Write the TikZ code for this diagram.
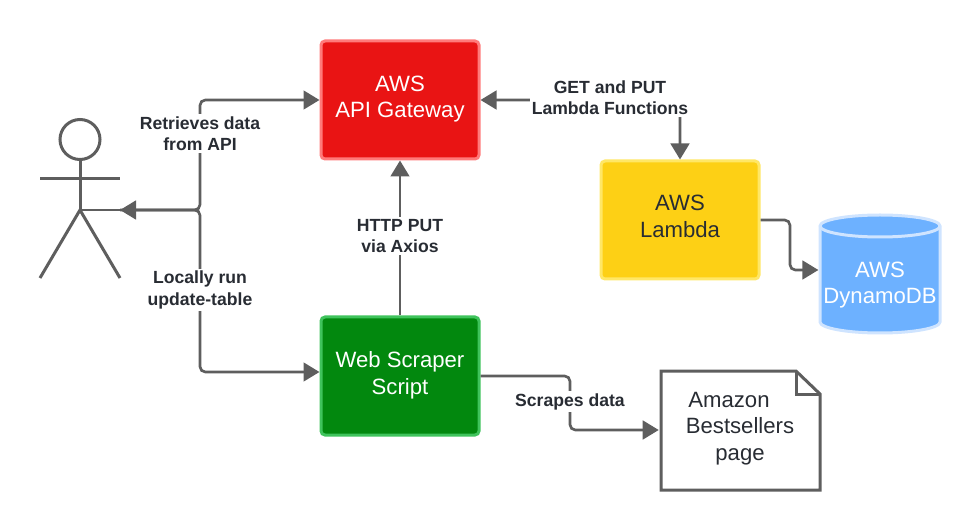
\documentclass[tikz,border=0pt]{standalone}
\usepackage{fontspec}
\setmainfont{Liberation Sans}
\usetikzlibrary{arrows.meta}
\definecolor{ln}{HTML}{5E5E5E}
\definecolor{ink}{HTML}{282C33}
\definecolor{redf}{HTML}{E91414}\definecolor{redb}{HTML}{FF7B7B}
\definecolor{grnf}{HTML}{02880E}\definecolor{grnb}{HTML}{3FC35C}
\definecolor{yelf}{HTML}{FDD015}\definecolor{yelb}{HTML}{FFE766}
\definecolor{bluf}{HTML}{6DB1FF}\definecolor{blub}{HTML}{CFE4FF}
\tikzset{
  x=0.75pt,y=-0.75pt,
  boxn/.style={draw=#1,line width=2.25pt,rounded corners=3pt,minimum width=118.5pt,minimum height=88.5pt,inner sep=0pt},
  maintext/.style={inner sep=0pt,align=center,text=ink,font=\fontsize{16.6}{20}\selectfont},
  lab/.style={fill=white,inner sep=1.5pt,align=center,text=ink,font=\bfseries\fontsize{13.2}{16}\selectfont},
  conn/.style={draw=ln,line width=2pt,rounded corners=4pt,-{Triangle[length=12pt,width=14pt]}},
  connboth/.style={conn,{Triangle[length=12pt,width=14pt]}-{Triangle[length=12pt,width=14pt]}},
  fig/.style={draw=ln,line width=2.25pt},
}
\begin{document}
\begin{tikzpicture}
\useasboundingbox (0,0) rectangle (980,530);
% boxes
\node[boxn=redb,fill=redf] (gw) at (400,100) {};
\node[boxn=grnb,fill=grnf] (ws) at (400,376) {};
\node[boxn=yelb,fill=yelf] (lam) at (680,220) {};
\node[maintext,text=white] (gwtext) at (400,99) {AWS\\API Gateway};
\node[maintext,text=white] (wstext) at (400,375) {Web Scraper\\Script};
\node[maintext] (lamtext) at (680,216.5) {AWS\\Lambda};
% cylinder
\path[fill=bluf,draw=blub,line width=2.25pt] (820,226) -- (820,322) arc[start angle=180,end angle=0,x radius=60,y radius=11] -- (940,226) arc[start angle=0,end angle=-180,x radius=60,y radius=11] -- cycle;
\draw[blub,line width=2.25pt] (820,226) arc[start angle=180,end angle=0,x radius=60,y radius=11];
\node[inner sep=0pt,minimum width=92pt,minimum height=80pt] (db) at (880,270) {};
\node[maintext,text=white] (dbtext) at (880,285) {AWS\\DynamoDB};
% document
\node[inner sep=0pt,minimum width=121.5pt,minimum height=90pt] (doc) at (740,430) {};
\draw[fig,line join=miter] (661,371) -- (796,371) -- (820,394) -- (820,490) -- (661,490) -- cycle;
\draw[fig] (796,371) -- (796,394) -- (820,394);
\node[maintext] (doctext) at (740,428.5) {Amazon\hspace*{16.5pt}\\Bestsellers\\page};
% actor
\node[draw=ln,line width=2.25pt,circle,minimum size=30pt,inner sep=0pt] (head) at (80,139.5) {};
\coordinate (hip) at (80,210);
\coordinate (armL) at (40,179);
\coordinate (armR) at (120,179);
\coordinate (footL) at (40,278);
\coordinate (footR) at (120,278);
\coordinate (actorE) at (120,210);
\draw[fig] (head.south) -- (hip);
\draw[fig] (armL) -- (armR);
\draw[fig] (footL) -- (hip) -- (footR);
\draw[ln,line width=2pt] (hip) -- (actorE);
% connectors
\draw[connboth] (actorE) -- (200,210) -- (200,100) -- (gw.west);
\draw[conn] (actorE) -- (200,210) -- (200,372) -- (ws.west |- 0,372);
\draw[conn] (ws.north) -- (gw.south);
\draw[connboth] (gw.east) -- (680,100) -- (lam.north);
\draw[conn] (lam.east) -- (790,220) -- (790,270) -- (db.west);
\draw[conn] (ws.east) -- (570,376) -- (570,430) -- (doc.west);
% labels
\node[lab] (l1) at (200,133.5) {Retrieves data\\from API};
\node[lab] (l2) at (200,290) {Locally run\\update-table};
\node[lab] (l3) at (400,236) {HTTP PUT\\via Axios};
\node[lab] (l4) at (610,97.5) {GET and PUT\\Lambda Functions};
\node[lab] (l5) at (570,401.5) {Scrapes data};
\end{tikzpicture}
\end{document}
